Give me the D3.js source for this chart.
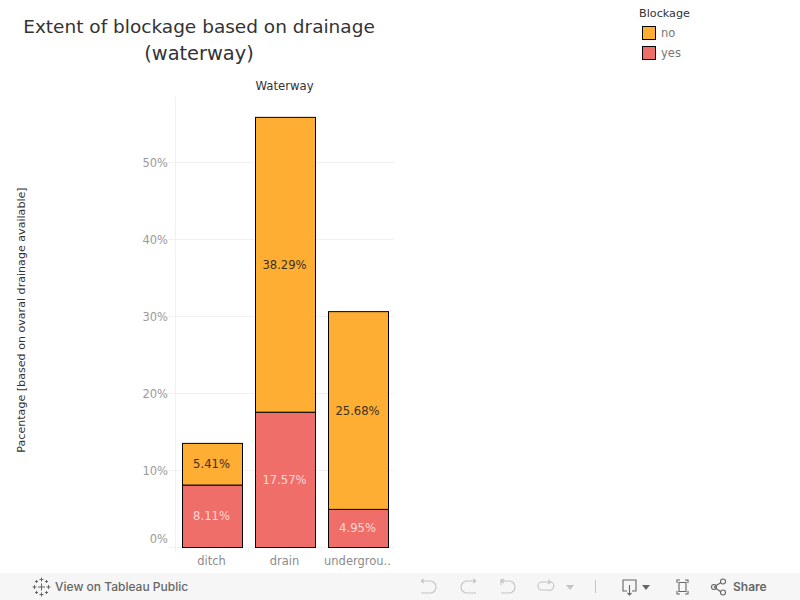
<!DOCTYPE html>
<html><head><meta charset="utf-8">
<script src="https://cdn.jsdelivr.net/npm/d3@7"></script>
<style>html,body{margin:0;padding:0;background:#fff}svg{display:block}text{font-family:"DejaVu Sans",sans-serif}</style>
</head><body><div id="c"></div>
<script>
const categories=["ditch","drain","undergrou.."];
const blockage=["yes","no"];
const yesValues=[8.11,17.57,4.95];
const noValues=[5.41,38.29,25.68];
const yTicks=[0,10,20,30,40,50];
const colors={no:"#FFAE34",yes:"#F06E6A"};
const labelColors={no:"#3a3122",yes:"#ffd9d6"};

const svg=d3.select("#c").append("svg").attr("width",800).attr("height",600);
const x=d3.scaleBand().domain(categories).range([176,395]).paddingInner(0).paddingOuter(0);
const y=d3.scaleLinear().domain([0,58.44]).range([547.5,97.5]);
const barW=60;

// title
svg.append("text").attr("x",199).attr("y",32.5).attr("text-anchor","middle").attr("font-size",18.5).attr("fill","#333").text("Extent of blockage based on drainage");
svg.append("text").attr("x",199).attr("y",59.5).attr("text-anchor","middle").attr("font-size",19.4).attr("fill","#333").text("(waterway)");
svg.append("text").attr("x",284.5).attr("y",90).attr("text-anchor","middle").attr("font-size",11.7).attr("fill","#333").text("Waterway");

// grid and axis rules
const g=svg.append("g");
g.selectAll("line.grid").data(yTicks).join("line").attr("x1",168).attr("x2",394).attr("y1",d=>Math.floor(y(d))+.5).attr("y2",d=>Math.floor(y(d))+.5).attr("stroke","#f1f1f1");
g.append("line").attr("x1",175.5).attr("x2",175.5).attr("y1",97).attr("y2",552).attr("stroke","#f1f1f1");
[248.5,321.5].forEach(v=>g.append("line").attr("x1",v).attr("x2",v).attr("y1",547).attr("y2",552).attr("stroke","#f1f1f1"));

// y ticks
g.selectAll("text.yt").data(yTicks).join("text").attr("x",168).attr("y",d=>d===0?543:y(d)+5)
 .attr("text-anchor","end").attr("font-size",11.5).attr("fill","#9a9a9a").text(d=>d+"%");
svg.append("text").attr("transform","translate(25,320) rotate(-90)").attr("text-anchor","middle").attr("font-size",11.1).attr("fill","#333").text("Pacentage [based on ovaral drainage available]");

// stacked bars
const rows=categories.map((c,i)=>({cat:c,yes:yesValues[i],no:noValues[i]}));
const stack=d3.stack().keys(blockage)(rows);
stack.forEach(s=>{
  const k=s.key;
  svg.append("g").selectAll("rect").data(s).join("rect")
    .attr("x",d=>x(d.data.cat)+(x.bandwidth()-barW)/2).attr("width",barW)
    .attr("y",d=>y(d[1])).attr("height",d=>y(d[0])-y(d[1]))
    .attr("fill",colors[k]).attr("stroke","#000").attr("stroke-width",1);
  svg.append("g").selectAll("text").data(s).join("text")
    .attr("x",d=>x(d.data.cat)+x.bandwidth()/2-1).attr("y",d=>(y(d[0])+y(d[1]))/2+4)
    .attr("text-anchor","middle").attr("font-size",11.6).attr("fill",labelColors[k])
    .text(d=>d3.format(".2f")(d.data[k])+"%");
});

// x tick labels
svg.append("g").selectAll("text").data(categories).join("text")
  .attr("x",d=>x(d)+x.bandwidth()/2-1).attr("y",565).attr("text-anchor","middle").attr("font-size",11.5).attr("fill","#8c8c8c").text(d=>d);

// legend
svg.append("text").attr("x",639).attr("y",17).attr("font-size",11.2).attr("fill","#333").text("Blockage");
["no","yes"].forEach((k,i)=>{
  svg.append("rect").attr("x",642.5).attr("y",26.5+i*20).attr("width",13).attr("height",13).attr("fill",colors[k]).attr("stroke","#000");
  svg.append("text").attr("x",661).attr("y",37+i*20).attr("font-size",11.5).attr("fill","#777").text(k);
});

// toolbar
const t=svg.append("g");
t.append("rect").attr("x",0).attr("y",573).attr("width",800).attr("height",27).attr("fill","#f6f6f6");
t.append("text").attr("x",55).attr("y",591).style("font-family","Inter").attr("font-size",12).attr("font-weight",500).attr("fill","#666").text("View on Tableau Public");
t.append("text").attr("x",733).attr("y",591).style("font-family","Inter").attr("font-size",12).attr("font-weight",600).attr("fill","#666").text("Share");
const logo=t.append("g").attr("stroke","#666").attr("stroke-width",1).attr("fill","none");
[[41.5,587,3.5],[41.5,579.5,2],[41.5,594.5,2],[34.5,587,2],[48.5,587,2],[36.5,581.5,1.5],[46.5,581.5,1.5],[36.5,592.5,1.5],[46.5,592.5,1.5]].forEach(([a,b,r])=>{
  logo.append("path").attr("d",`M${a-r} ${b}H${a+r}M${a} ${b-r}V${b+r}`);
});
const icons=t.append("g").attr("fill","none").attr("stroke-width",1.1);
const ic=(d,c)=>icons.append("path").attr("d",d).attr("stroke",c);
ic("M421 581H430a5.5 5.5 0 0 1 0 12H421M421 581l3-2M421 581l3 2","#c4c4c4");
ic("M476 581H467a5.5 5.5 0 0 0 0 12H476M476 581l-3-2M476 581l-3 2","#c4c4c4");
ic("M501 579V585M501 581H509a5.5 5.5 0 0 1 0 12H501M501 581l3-2M501 581l3 2","#c4c4c4");
ic("M551 582H542a4 4 0 0 0 0 8H548a4 4 0 0 0 3-8M551 582l-3-2M551 582l-3 2","#c4c4c4");
t.append("path").attr("d","M566 585h8l-4 5z").attr("fill","#c4c4c4");
ic("M595.5 580V593","#c8c8c8");
ic("M627 591H623V580H636V591H632M629.5 585V595M627.5 593l2 2 2-2","#666");
t.append("path").attr("d","M642 585h8l-4 5z").attr("fill","#666");
ic("M677 583V580H680M685 580H688V583M688 591V594H685M680 594H677V591M679 582.5H686V591.5H679Z","#666");
ic("M714 587L721 582.5M714 587L721 592","#666");
icons.append("circle").attr("cx",714).attr("cy",587).attr("r",2.5).attr("stroke","#666");
icons.append("circle").attr("cx",723).attr("cy",581.5).attr("r",2.5).attr("stroke","#666");
icons.append("circle").attr("cx",723).attr("cy",592.5).attr("r",2.5).attr("stroke","#666");
</script></body></html>
